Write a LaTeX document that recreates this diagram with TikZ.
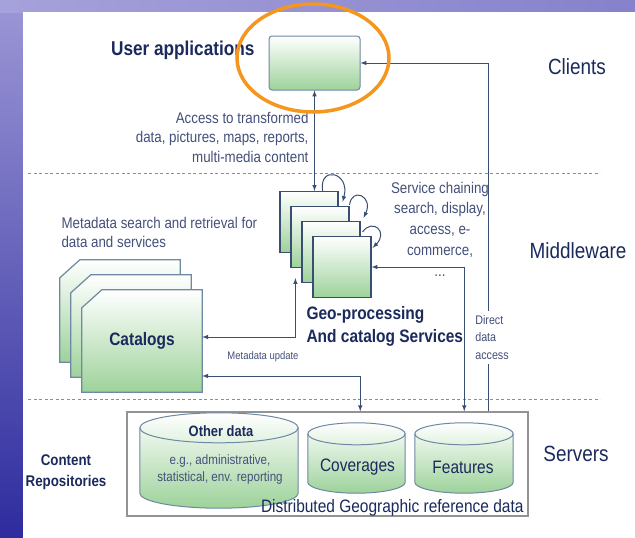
\documentclass[tikz,border=0pt]{standalone}
\usepackage{fontspec}
\setmainfont{Liberation Sans}[FakeStretch=0.86]
\usetikzlibrary{shapes, arrows, positioning, fit, calc, backgrounds}

\definecolor{navy}{HTML}{1B2A5C}
\definecolor{txtgray}{HTML}{44507A}
\definecolor{boxline}{HTML}{3A4E72}
\definecolor{lightline}{HTML}{6F88A3}
\definecolor{leaf}{HTML}{9DD29A}
\definecolor{dashcol}{HTML}{7F90AD}
\definecolor{ring}{HTML}{F5961E}
\definecolor{bgtop}{HTML}{9C97D6}
\definecolor{bgbot}{HTML}{2E2C9E}

\tikzset{
  geobox/.style={rectangle, draw=boxline, line width=1.2pt, top color=white, bottom color=leaf,
    minimum width=58pt, minimum height=61pt, inner sep=0pt},
  appbox/.style={rectangle, rounded corners=3pt, draw=lightline, line width=1pt, top color=white,
    bottom color=leaf, minimum width=91pt, minimum height=54pt, inner sep=0pt},
  slot/.style={rectangle, inner sep=0pt},
  catfill/.style={draw=lightline, line width=1.2pt, top color=white, bottom color=leaf},
  drumfill/.style={draw=lightline, line width=1pt, top color=white, bottom color=leaf},
  link/.style={draw=boxline, line width=1pt, >=latex},
  layer/.style={text=navy, font=\fontsize{22}{24}\selectfont},
  title/.style={text=navy, font=\bfseries\fontsize{18}{23}\selectfont},
  note/.style={text=txtgray, font=\fontsize{15.5}{19.5}\selectfont},
  sep/.style={dashcol, line width=1pt, dash pattern=on 3pt off 2.5pt},
}

% sheet with a cut corner, drawn on a slot node
\newcommand{\sheet}[1]{%
  \path[catfill] (#1.south west) -- ($(#1.north west)+(0,18)$) -- ($(#1.north west)+(20,0)$)
    -- (#1.north east) -- (#1.south east) -- cycle;
}
% data store drawn on a slot node, #2 = depth of the lid
\newcommand{\drum}[2]{%
  \path[drumfill] let \p1=(#1.north west), \p2=(#1.south east) in
    (\x1,\y1-#2) -- (\x1,\y2+#2) arc[start angle=180, end angle=360, x radius={(\x2-\x1)/2}, y radius=#2]
    -- (\x2,\y1-#2) arc[start angle=0, end angle=180, x radius={(\x2-\x1)/2}, y radius=#2] -- cycle;
  \draw[lightline, line width=1pt] let \p1=(#1.north west), \p2=(#1.south east) in
    (\x1,\y1-#2) arc[start angle=180, end angle=360, x radius={(\x2-\x1)/2}, y radius=#2];
}

\begin{document}
\begin{tikzpicture}[x=1pt, y=-1pt]
% frame of the slide
\fill[top color=bgtop, bottom color=bgbot] (0,0) rectangle (635,538);
\fill[left color=bgtop!90!white, right color=bgtop!80!bgbot] (0,0) rectangle (635,12);
\fill[white] (23,12) rectangle (635,538);
\useasboundingbox (0,0) rectangle (635,538);

\draw[sep] (28,173) -- (600,173);
\draw[sep] (28,399) -- (600,399);

\node[layer] (clients) at (577,67) {Clients};
\node[layer] (middleware) at (578,251) {Middleware};
\node[layer] (servers_title) at (576,454) {Servers};

% clients
\node[appbox] (user_app) at (314.5,63) {};
\node[anchor=east, text=navy, font=\bfseries\fontsize{20}{22}\selectfont] (user_title) at (258,50) {User applications};
\node[note, anchor=east, align=right] (access_note) at (312,137) {Access to transformed\\data, pictures, maps, reports,\\multi-media content};

% middleware
\node[geobox] (geo_a) at (309,222) {};
\node[geobox] (geo_b) at ($(geo_a)+(11,15)$) {};
\node[geobox] (geo_c) at ($(geo_b)+(11,15)$) {};
\node[geobox] (geo_d) at ($(geo_c)+(11,15)$) {};
\node[title, anchor=west, align=left] (geo_title) at (303,326.5) {Geo-processing\\And catalog Services};
\node[note, align=center, font=\fontsize{15.5}{20.75}\selectfont] (chain_note) at (440,229) {Service chaining\\search, display,\\access, e-\\commerce,\\...};

\node[slot, minimum width=120pt, minimum height=102pt] (cat_a) at (120,311) {};
\node[slot, minimum width=120pt, minimum height=102pt] (cat_b) at ($(cat_a)+(11,15)$) {};
\node[slot, minimum width=120pt, minimum height=102pt] (cat_c) at ($(cat_b)+(11,15)$) {};
\sheet{cat_a}
\sheet{cat_b}
\sheet{cat_c}
\node[text=navy, font=\bfseries\fontsize{18}{20}\selectfont] (cat_title) at (cat_c) {Catalogs};
\node[note, anchor=west, align=left, font=\fontsize{15.5}{19}\selectfont] (meta_note) at (58,232) {Metadata search and retrieval for\\data and services};
\node[note, font=\fontsize{11}{13}\selectfont] (update_note) at (263,357) {Metadata update};

% servers
\node[draw=gray!85, line width=1.5pt, minimum width=401pt, minimum height=104pt, inner sep=0pt] (servers) at (327.5,464) {};
\node[slot, minimum width=158pt, minimum height=95pt] (other_db) at (219,460.5) {};
\node[slot, minimum width=97pt, minimum height=70pt] (coverages) at (356.5,458) {};
\node[slot, minimum width=98pt, minimum height=70pt] (features) at (464,458) {};
\drum{other_db}{15pt}
\drum{coverages}{11pt}
\drum{features}{11pt}
\node[text=navy, font=\bfseries\fontsize{15}{17}\selectfont] (other_title) at (221,431) {Other data};
\node[note, align=center, font=\fontsize{13.5}{17}\selectfont] (other_note) at (220,469.5) {e.g., administrative,\\statistical, env. reporting};
\node[text=navy, font=\fontsize{18}{20}\selectfont] (cov_title) at ($(coverages)+(1,9)$) {Coverages};
\node[text=navy, font=\fontsize{18}{20}\selectfont] (feat_title) at ($(features)+(-1,9)$) {Features};
\node[anchor=base east, text=navy, font=\fontsize{18}{20}\selectfont] (geo_ref) at (527,512) {Distributed Geographic reference data};
\node[text=navy, align=center, font=\bfseries\fontsize{15.5}{21}\selectfont] (content_title) at (66,472.5) {Content\\Repositories};

% connectors
\draw[link, <->] (user_app.south) -- (user_app.south |- geo_a.north);
\draw[link, <-] (user_app.east) -| ($(servers.north west)+(362,0)$);
\node[note, align=left, fill=white, inner xsep=1pt, inner ysep=4pt, font=\fontsize{12.5}{17.5}\selectfont] (direct_note) at (492,337.5) {Direct\\data\\access};
\draw[link, <->] (geo_d.east) -| ($(servers.north west)+(338,0)$);
\draw[link, <->] ($(cat_c.east)+(0,-4)$) -| ($(geo_b.south west)+(5,10)$);
\draw[link, <->] ($(cat_c.east)+(0,35)$) -| ($(servers.north west)+(234,0)$);
\draw[link, ->] ($(geo_a.north east)+(-16,0)$) .. controls +(-4,-26) and +(8,-30) .. ($(geo_b.north east)+(-7,-4)$);
\draw[link, ->] ($(geo_b.north east)+(0,-1)$) .. controls +(2,-18) and +(10,-22) .. ($(geo_c.north east)+(3,-3)$);
\draw[link, ->] ($(geo_c.north east)+(2,11)$) .. controls +(10,-14) and +(16,-16) .. ($(geo_d.north east)+(1,12)$);

% highlight
\draw[ring, line width=3.5pt] (313,58) ellipse [x radius=76pt, y radius=54pt];
\end{tikzpicture}
\end{document}
